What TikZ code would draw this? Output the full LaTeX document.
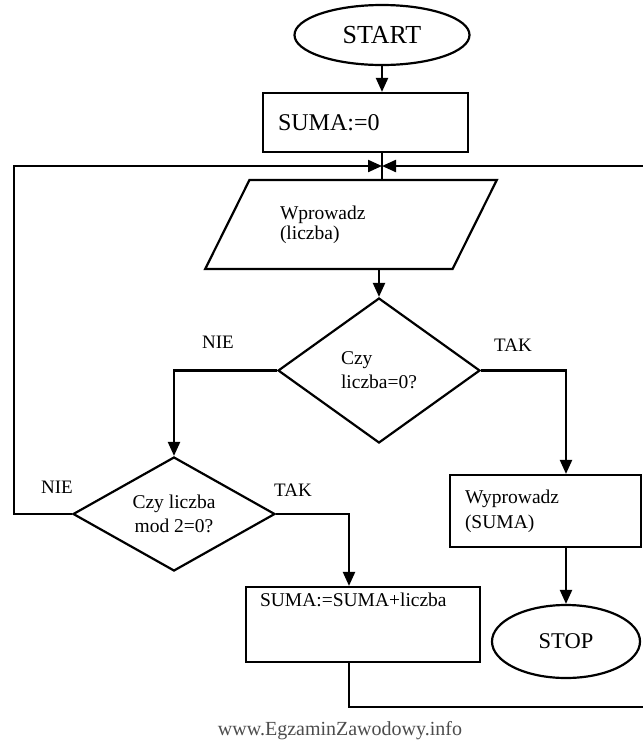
\documentclass[tikz,border=0pt]{standalone}
\usepackage{fontspec}
\setmainfont{Liberation Serif}
\usetikzlibrary{shapes.geometric,arrows.meta}

\begin{document}
\begin{tikzpicture}[x=1pt,y=-1pt]

% line width of every shape and connector
\def\lw{2.2pt}
% node style definition
\tikzstyle{term} = [
	draw, ellipse, line width=\lw, inner sep=0pt ];
\tikzstyle{block} = [
	draw, rectangle, line width=\lw, align=left,
	inner xsep=15pt, font=\fontsize{19.5}{25}\selectfont ];
\tikzstyle{io} = [
	draw, trapezium, trapezium left angle=50.6, trapezium right angle=129.4,
	trapezium stretches=true, line width=\lw, inner sep=0pt, align=left,
	font=\fontsize{19.5}{20}\selectfont ];
\tikzstyle{decision} = [
	draw, diamond, line width=\lw, inner sep=0pt,
	font=\fontsize{19.5}{24}\selectfont ];
\tikzstyle{plain} = [draw=none,fill=none,font=\fontsize{19}{22}\selectfont];
\tikzstyle{arr} = [line width=\lw,-{Triangle[length=14pt,width=12pt]}];

\useasboundingbox (0,0) rectangle (643,740);
\clip (0,0) rectangle (643,740);

\node[term,minimum width=175pt,minimum height=60pt,font=\fontsize{26}{28}\selectfont] (start) at (382,35) {START};
\node[block,minimum width=205pt,minimum height=59pt,text width=175pt,font=\fontsize{24}{26}\selectfont] (init) at (365.5,122.5) {SUMA:=0};
\coordinate (join) at (382,166);
\node[io,minimum width=292pt,minimum height=89pt,text width=142pt] (input) at (351,224.5) {Wprowadz\\(liczba)};
\node[decision,aspect=1.39,minimum width=202pt,minimum height=145pt,align=left] (zero) at (379,370.5) {Czy\\liczba=0?};
\node[decision,aspect=1.77,minimum width=202pt,minimum height=114pt,align=center] (even) at (174,514) {Czy liczba\\mod 2=0?};
\node[block,minimum width=191pt,minimum height=72pt,text width=161pt] (output) at (545.5,511) {Wyprowadz\\(SUMA)};
\node[term,minimum width=148pt,minimum height=73pt,font=\fontsize{22.5}{24}\selectfont] (stop) at (566,641.5) {STOP};
\node[block,minimum width=234pt,minimum height=75pt,text width=206pt,inner xsep=14pt,inner ysep=0pt,text depth=49pt] (add) at (363,624.5) {SUMA:=SUMA+liczba};

\node[plain] (nie1) at (218,342) {NIE};
\node[plain] (tak1) at (513,345) {TAK};
\node[plain] (nie2) at (57,487) {NIE};
\node[plain] (tak2) at (293,490) {TAK};
\node[plain,text=black!70,anchor=base,font=\fontsize{20}{22}\selectfont] (www) at (340,735) {www.EgzaminZawodowy.info};

\coordinate (lft) at (14,166);
\coordinate (rgt) at (655,707);

\draw[arr] (start.south) -- (start.south |- init.north);
\draw[line width=\lw] (init.south -| join) -- (join |- input.north);
\draw[arr] (zero.north |- input.south) -- (zero.north);
\draw[arr] (zero.west) -| (even.north);
\draw[arr] (zero.east) -| (stop.north |- output.north);
\draw[arr] (output.south -| stop.north) -- (stop.north);
\draw[arr] (even.east) -| ([xshift=-14pt]add.north);
\draw[arr] (even.west) -| (lft) -- (join);
\draw[arr] ([xshift=-14pt]add.south) |- (rgt) |- (join);

\end{tikzpicture}
\end{document}
